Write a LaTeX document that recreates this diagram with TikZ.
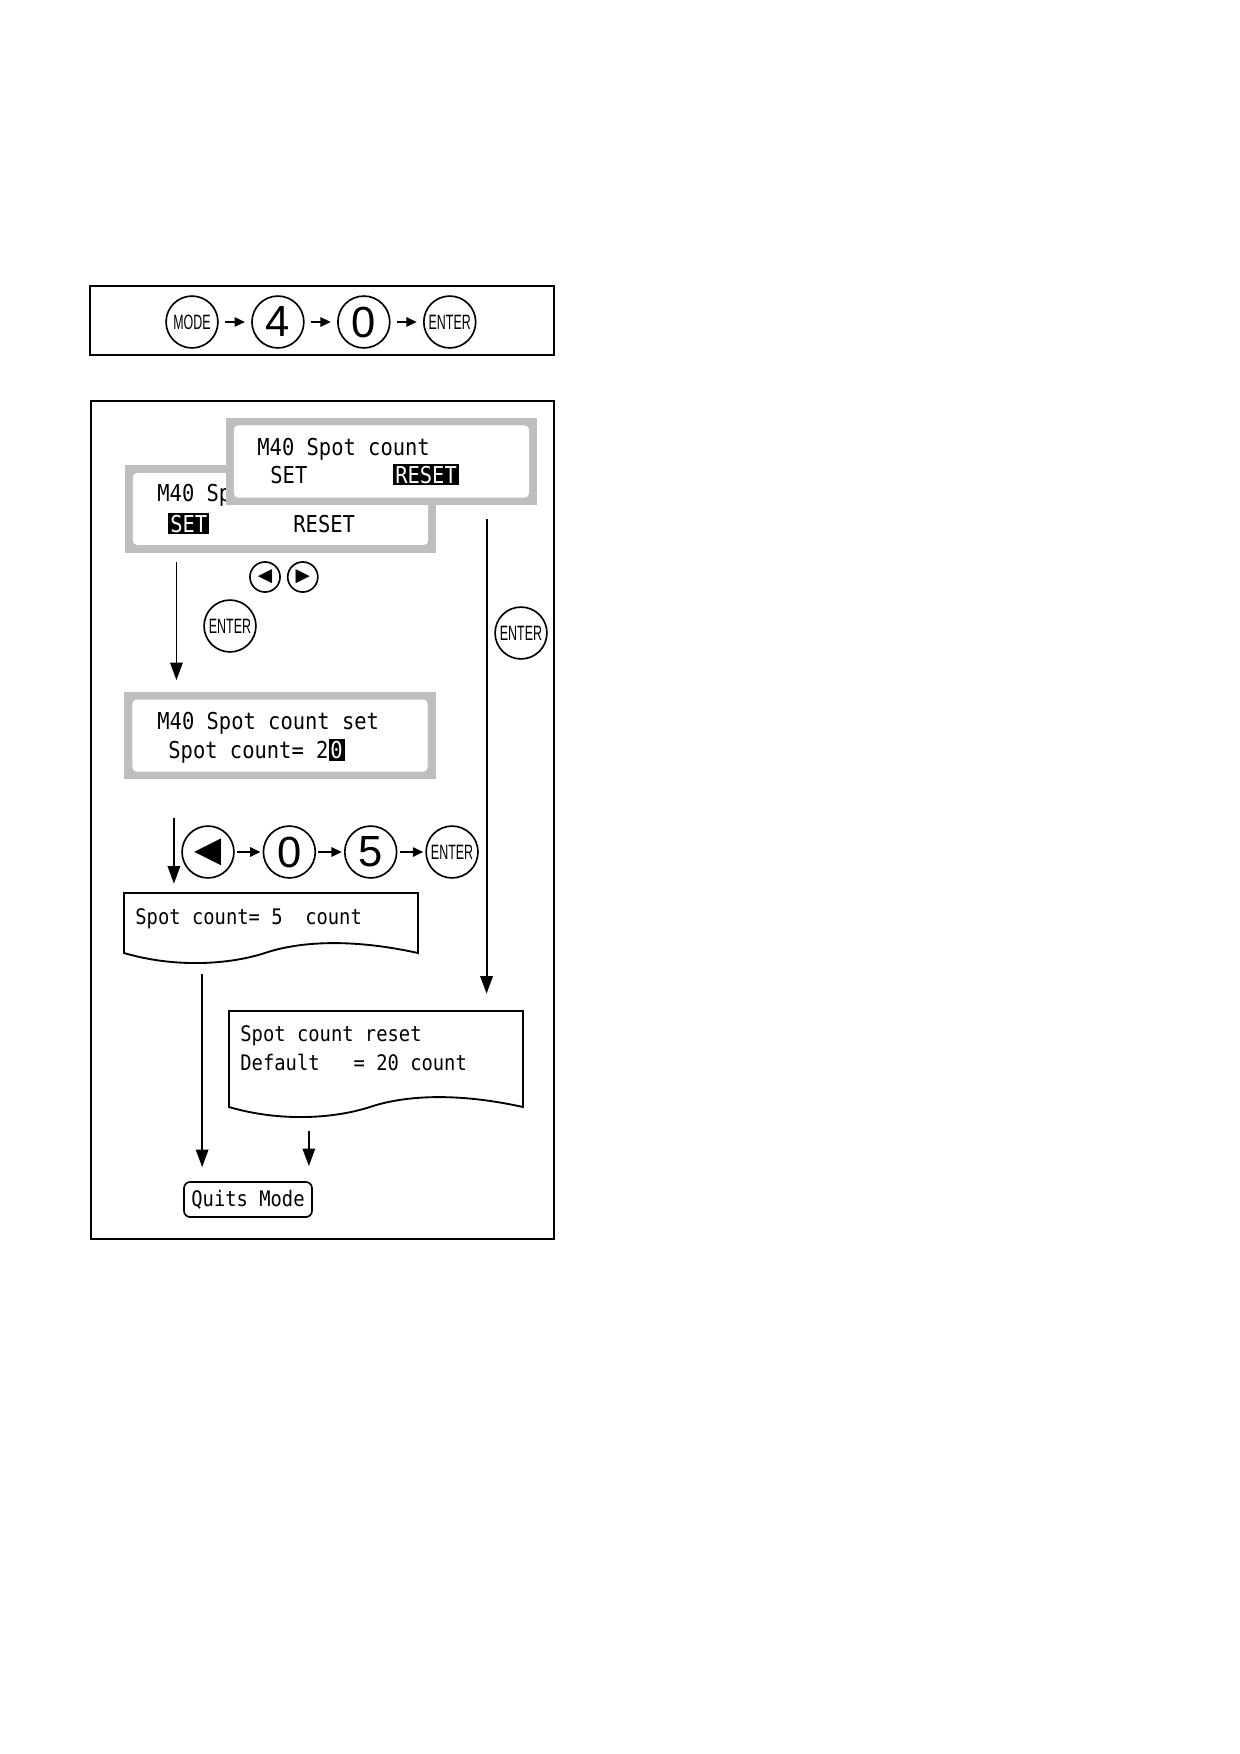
\documentclass[tikz,border=0pt]{standalone}
\usepackage{fontspec}
\usepackage{tikz}
\usetikzlibrary{arrows.meta, positioning}
\newfontfamily\lcdfont[FakeStretch=0.88]{DejaVu Sans Mono}
\newfontfamily\keyfont[FakeStretch=0.6]{Liberation Sans}
\newfontfamily\digitfont{Liberation Sans}
\newfontfamily\symfont{DejaVu Sans}
\definecolor{LcdGray}{RGB}{190, 190, 190}
\newcommand{\hlt}[1]{{\setlength{\fboxsep}{0.9pt}\colorbox{black}{\textcolor{white}{#1}}}}

\begin{document}
\begin{tikzpicture}[x=0.16935mm, y=-0.16935mm, every node/.style={inner sep=0pt},
    lcd/.style={fill=LcdGray, minimum width=150pt, minimum height=42.2pt},
    lcdin/.style={fill=white, rounded corners=2pt, minimum width=142.2pt, minimum height=34.7pt},
    lcdtext/.style={anchor=base west, font=\lcdfont\fontsize{11.2}{13}\selectfont},
    doctext/.style={anchor=base west, font=\lcdfont\fontsize{10.3}{12}\selectfont},
    key/.style={draw, circle, line width=0.8pt, minimum size=25pt, font=\keyfont\fontsize{10}{12}\selectfont},
    digit/.style={font=\digitfont\fontsize{21}{24}\selectfont},
    smallkey/.style={draw, circle, line width=0.8pt, minimum size=14.5pt, font=\symfont\fontsize{9}{10}\selectfont},
    flow/.style={-{Triangle[length=8.5pt, width=6pt]}, line width=0.9pt},
    chain/.style={-{Triangle[length=5pt, width=4.5pt]}, line width=0.9pt, shorten <=3pt, shorten >=3pt},
    doc/.style={line width=0.9pt}]
  \useasboundingbox (0,0) rectangle (1240,1754);

  % key sequence
  \draw[line width=0.6pt] (90,286) rectangle (554,355);
  \node[key] (mode) at (192,322) {MODE};
  \node[key, digit, right=15.6pt of mode] (four) {4};
  \node[key, digit, right=15.6pt of four] (zero) {0};
  \node[key, right=15.6pt of zero] (enter) {ENTER};
  \draw[chain] (mode) -- (four);
  \draw[chain] (four) -- (zero);
  \draw[chain] (zero) -- (enter);

  \draw[line width=0.6pt] (91,401) rectangle (554,1239);

  % SET display
  \node[lcd] (setlcd) at (280.5,509) {};
  \node[lcdin] (setlcdin) at (setlcd) {};
  \node[lcdtext] (setline) at (157,501.5) {M40 Sp};
  \node[lcdtext] (setsel) at (168,532) {\hlt{SET}};
  \node[lcdtext] (setreset) at (293,532) {RESET};

  % RESET display
  \node[lcd] (resetlcd) at (381.5,461.5) {};
  \node[lcdin] (resetlcdin) at (resetlcd) {};
  \node[lcdtext] (resetline) at (257,455.5) {M40 Spot count};
  \node[lcdtext] (resetset) at (270,483) {SET};
  \node[lcdtext] (resetsel) at (393,483) {\hlt{RESET}};

  \node[smallkey] (left) at (265,577) {◀};
  \node[smallkey, right=2.9pt of left] (right) {▶};
  \node[key] (enterset) at (230,626) {ENTER};
  \node[key] (enterreset) at (521,633) {ENTER};
  \draw[flow] (setlcd.south west) ++(52,9) -- ++(0,118);
  \draw[flow] (resetlcd.south east) ++(-51,13) -- ++(0,475);

  % count display
  \node[lcd] (countlcd) at (280,735.5) {};
  \node[lcdin] (countlcdin) at (countlcd) {};
  \node[lcdtext] (countline) at (157,729.5) {M40 Spot count set};
  \node[lcdtext] (countval) at (168,758.5) {Spot count= 2\hlt{0}};

  \node[key, font=\symfont\fontsize{17}{20}\selectfont] (back) at (208,852) {◀};
  \node[key, digit, right=13.4pt of back] (zerob) {0};
  \node[key, digit, right=13.4pt of zerob] (five) {5};
  \node[key, right=13.4pt of five] (enterb) {ENTER};
  \draw[chain, shorten <=1pt, shorten >=1pt] (back) -- (zerob);
  \draw[chain, shorten <=1pt, shorten >=1pt] (zerob) -- (five);
  \draw[chain, shorten <=1pt, shorten >=1pt] (five) -- (enterb);
  \draw[flow] (countlcd.south west) ++(50,38) -- ++(0,66);

  % results
  \draw[doc] (124,893) -- (418,893) -- (418,953) .. controls (350,938) and (300,942) .. (268,952)
    .. controls (230,965) and (175,968) .. (124,953) -- cycle;
  \node[doctext] (setdone) at (135,924.5) {Spot count= 5~~count};
  \draw[doc] (229,1011) -- (523,1011) -- (523,1107) .. controls (455,1092) and (405,1096) .. (373,1106)
    .. controls (335,1119) and (280,1122) .. (229,1107) -- cycle;
  \node[doctext] (resetdone) at (240,1041.5) {Spot count reset};
  \node[doctext] (resetdef) at (240,1070.5) {Default~~~= 20 count};

  \node[draw, rounded corners=3pt, line width=0.8pt, minimum width=61.7pt, minimum height=16.9pt,
    font=\lcdfont\fontsize{10.3}{12}\selectfont] (quits) at (248,1199.5) {Quits Mode};
  \draw[flow] (quits.north west) ++(19,-207) -- ++(0,193);
  \draw[flow] (quits.north east) ++(-4,-50) -- ++(0,35);
\end{tikzpicture}
\end{document}
